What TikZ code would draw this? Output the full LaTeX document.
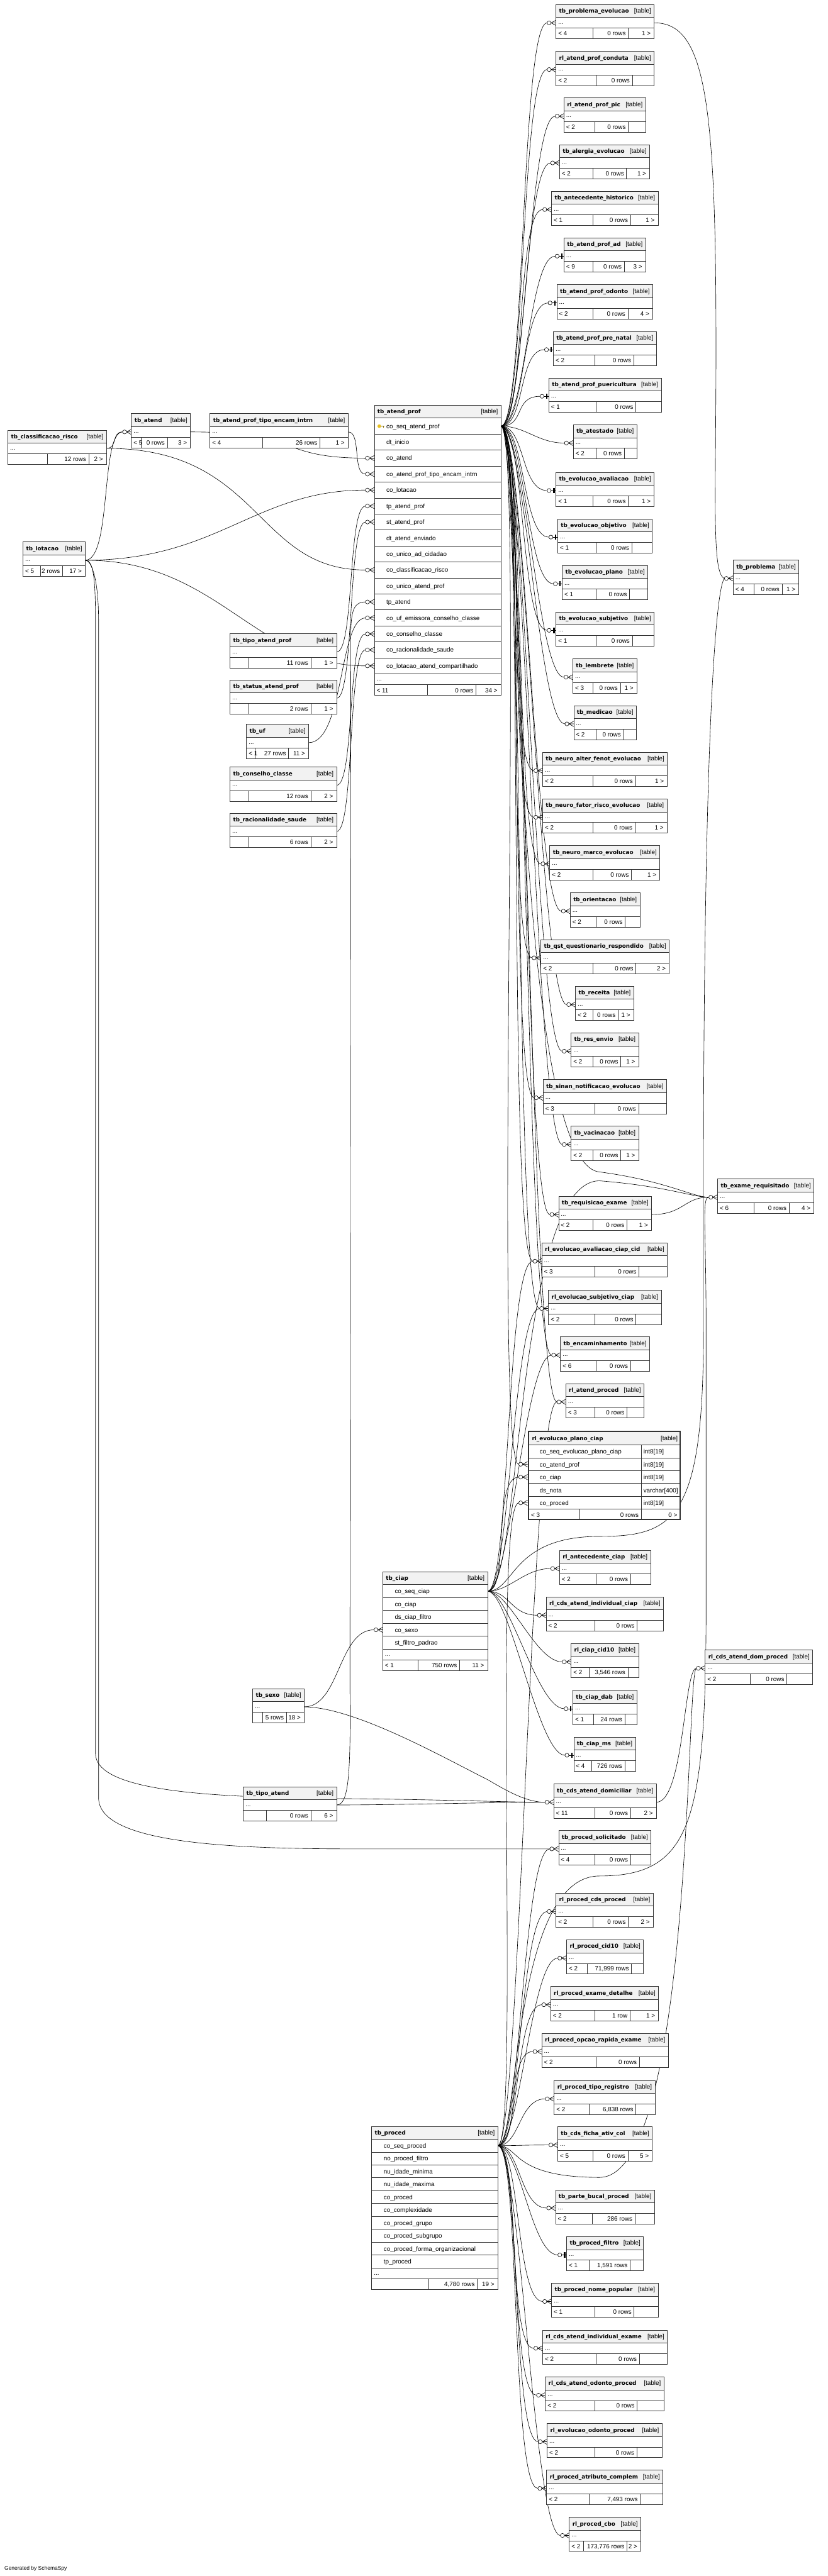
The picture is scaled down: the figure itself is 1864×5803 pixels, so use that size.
\documentclass[tikz,border=0pt]{standalone}
\usepackage{fontspec}
\setmainfont{Liberation Sans}
\newfontfamily\hdfont{DejaVu Sans}
\usetikzlibrary{calc}
\pgfdeclarelayer{back}
\pgfdeclarelayer{bg}
\pgfsetlayers{back,bg,main}
\definecolor{bd}{HTML}{333333}
\definecolor{hdbg}{HTML}{F2F2F2}
\definecolor{keyc}{HTML}{E8C020}
\tikzset{
 tline/.style={draw=bd, line width=1.3pt},
 tx/.style={inner sep=0pt, outer sep=0pt, font=\fontsize{14}{16}\selectfont, text=black},
 hd/.style={inner sep=0pt, outer sep=0pt, font=\hdfont\bfseries\fontsize{12.5}{15}\selectfont},
 cn/.style={draw=black, line width=0.9pt},
 anc/.style={inner sep=0pt, outer sep=0pt, minimum width=0pt, minimum height=0pt},
}
% small table: name, xl, xr, yt, split1, split2, left, mid, right
\newcommand{\stab}[9]{%
  \node[anc, anchor=north west, minimum width={#3-#2}, minimum height=77] (#1) at (#2,#4) {};
  \fill[white] (#2,#4) rectangle (#3,#4+77);
  \fill[hdbg] (#2,#4) rectangle (#3,#4+29);
  \draw[tline] (#2,#4+29) -- (#3,#4+29) (#2,#4+53) -- (#3,#4+53)
     (#5,#4+53) -- (#5,#4+77) (#6,#4+53) -- (#6,#4+77);
  \draw[tline] (#2,#4) rectangle (#3,#4+77);
  \node[hd, anchor=base west] (#1-t) at (#2+7,#4+19) {#1};
  \node[tx, anchor=base east] (#1-k) at (#3-7,#4+19) {[table]};
  \node[tx, anchor=base west] (#1-d) at (#2+5,#4+44) {...};
  \node[tx, anchor=base west] (#1-fl) at (#2+5,#4+70) {#7};
  \node[tx, anchor=base east] (#1-fm) at (#6-6,#4+70) {#8};
  \node[tx, anchor=base east] (#1-fr) at (#3-8,#4+70) {#9};
  \coordinate (#1-in) at (#2,#4+41);
  \coordinate (#1-e) at (#2-20,#4+41);
  \coordinate (#1-out) at (#3,#4+41);
}
% big table: name, xl, xr, yt, ncols, rowh, list
\newcommand{\btab}[7]{%
  \pgfmathsetmacro\bh{29+#6*#5+48}
  \node[anc, anchor=north west, minimum width={#3-#2}, minimum height=\bh] (#1) at (#2,#4) {};
  \fill[white] (#2,#4) rectangle (#3,#4+\bh);
  \fill[hdbg] (#2,#4) rectangle (#3,#4+29);
  \foreach \colname [count=\i from 0] in {#7} {
    \draw[tline] (#2,#4+29+#6*\i) -- (#3,#4+29+#6*\i);
    \node[tx, anchor=base west] (#1-c\i) at (#2+27,#4+29+#6*\i+#6/2+5) {\colname};
    \coordinate (#1-r\i) at (#2,#4+29+#6*\i+#6/2);
    \coordinate (#1-r\i-e) at (#2-20,#4+29+#6*\i+#6/2);
  }
  \draw[tline] (#2,#4+29+#6*#5) -- (#3,#4+29+#6*#5);
  \draw[tline] (#2,#4+\bh-24) -- (#3,#4+\bh-24);
  \draw[tline] (#2,#4) rectangle (#3,#4+\bh);
  \node[hd, anchor=base west] (#1-t) at (#2+7,#4+19) {#1};
  \node[tx, anchor=base east] (#1-k) at (#3-7,#4+19) {[table]};
  \node[tx, anchor=base west] (#1-d) at (#2+5,#4+29+#6*#5+16) {...};
  \coordinate (#1-pk) at (#3,#4+29+#6/2);
}
% footer of big table: name, xl, xr, ytop-of-footer, s1, s2, l, m, r
\newcommand{\bfoot}[9]{%
  \draw[tline] (#5,#4) -- (#5,#4+24) (#6,#4) -- (#6,#4+24);
  \node[tx, anchor=base west] (#1-fl) at (#2+5,#4+18) {#7};
  \node[tx, anchor=base east] (#1-fm) at (#6-6,#4+18) {#8};
  \node[tx, anchor=base east] (#1-fr) at (#3-8,#4+18) {#9};
}
\newcommand{\many}[1]{%
  \draw[cn] ($(#1)+(9,0)$) -- ($(#1)+(20,-6)$) ($(#1)+(9,0)$) -- ($(#1)+(20,0)$) ($(#1)+(9,0)$) -- ($(#1)+(20,6)$);
  \draw[cn, fill=white] ($(#1)+(4.5,0)$) circle[radius=4.5pt];
}
\newcommand{\one}[1]{%
  \draw[cn] ($(#1)+(9,0)$) -- ($(#1)+(20,0)$);
  \fill[black] ($(#1)+(14,-6)$) rectangle ($(#1)+(17,6)$);
  \draw[cn, fill=white] ($(#1)+(4.5,0)$) circle[radius=4.5pt];
}
\begin{document}
\catcode`\_=12
\begin{tikzpicture}[x=1pt,y=-1pt]
\useasboundingbox (0,0) rectangle (1864,5803);
\begin{pgfonlayer}{back}
\fill[white] (0,0) rectangle (1864,5803);
\end{pgfonlayer}

% ---------------- right column ----------------
\stab{tb_problema_evolucao}{1252}{1473}{10.5}{1335}{1415}{< 4}{0 rows}{1 >}
\stab{rl_atend_prof_conduta}{1252}{1473}{115.7}{1342}{1424}{< 2}{0 rows}{}
\stab{rl_atend_prof_pic}{1270}{1454}{220.8}{1340}{1415}{< 2}{0 rows}{}
\stab{tb_alergia_evolucao}{1260}{1463}{326}{1335}{1411}{< 2}{0 rows}{1 >}
\stab{tb_antecedente_historico}{1242}{1482}{431}{1335}{1420}{< 1}{0 rows}{1 >}
\stab{tb_atend_prof_ad}{1270}{1454}{536}{1335}{1406}{< 9}{0 rows}{3 >}
\stab{tb_atend_prof_odonto}{1254}{1470}{641.5}{1335}{1414}{< 2}{0 rows}{4 >}
\stab{tb_atend_prof_pre_natal}{1246}{1478}{746.6}{1340}{1427}{< 2}{0 rows}{}
\stab{tb_atend_prof_puericultura}{1236}{1489}{851.8}{1342}{1432}{< 1}{0 rows}{}
\stab{tb_atestado}{1291}{1434}{957}{1342}{1406}{< 2}{0 rows}{}
\stab{tb_evolucao_avaliacao}{1252}{1473}{1064}{1335}{1415}{< 1}{0 rows}{1 >}
\stab{tb_evolucao_objetivo}{1256}{1469}{1169}{1342}{1423}{< 1}{0 rows}{}
\stab{tb_evolucao_plano}{1266}{1459}{1274}{1342}{1418}{< 1}{0 rows}{}
\stab{tb_evolucao_subjetivo}{1252}{1473}{1379}{1342}{1424}{< 1}{0 rows}{}
\stab{tb_lembrete}{1290}{1434}{1484.6}{1335}{1397}{< 3}{0 rows}{1 >}
\stab{tb_medicao}{1292}{1433}{1589.7}{1342}{1404}{< 2}{0 rows}{}
\stab{tb_neuro_alter_fenot_evolucao}{1222}{1503}{1695}{1335}{1431}{< 2}{0 rows}{1 >}
\stab{tb_neuro_fator_risco_evolucao}{1222}{1502}{1800}{1335}{1430}{< 2}{0 rows}{1 >}
\stab{tb_neuro_marco_evolucao}{1238}{1486}{1905}{1335}{1422}{< 2}{0 rows}{1 >}
\stab{tb_orientacao}{1284}{1441}{2011.5}{1342}{1408}{< 2}{0 rows}{}
\stab{tb_qst_questionario_respondido}{1218}{1507}{2116.7}{1335}{1432}{< 2}{0 rows}{2 >}
\stab{tb_receita}{1296}{1427}{2222}{1335}{1392}{< 2}{0 rows}{1 >}
\stab{tb_res_envio}{1286}{1438}{2327}{1335}{1398}{< 2}{0 rows}{1 >}
\stab{tb_sinan_notificacao_evolucao}{1223}{1501}{2432}{1340}{1438}{< 3}{0 rows}{}
\stab{tb_vacinacao}{1286}{1438}{2537}{1335}{1398}{< 2}{0 rows}{1 >}
\stab{tb_requisicao_exame}{1258}{1467}{2695}{1335}{1412}{< 2}{0 rows}{1 >}
\stab{rl_evolucao_avaliacao_ciap_cid}{1220}{1503}{2800}{1340}{1439}{< 3}{0 rows}{}
\stab{rl_evolucao_subjetivo_ciap}{1235}{1489}{2906.6}{1340}{1432}{< 2}{0 rows}{}
\stab{tb_encaminhamento}{1262}{1463}{3011.8}{1342}{1420}{< 6}{0 rows}{}
\stab{rl_atend_proced}{1274}{1450}{3117}{1340}{1412}{< 3}{0 rows}{}
\stab{rl_antecedente_ciap}{1260}{1465}{3492.5}{1342}{1420}{< 2}{0 rows}{}
\stab{rl_cds_atend_individual_ciap}{1230}{1494}{3597.6}{1340}{1435}{< 2}{0 rows}{}
\stab{rl_ciap_cid10}{1286}{1438}{3702.7}{1327}{1414}{< 2}{3,546 rows}{}
\stab{tb_ciap_dab}{1290}{1434}{3808}{1336}{1407}{< 1}{24 rows}{}
\stab{tb_ciap_ms}{1292}{1431}{3913}{1332}{1407}{< 4}{726 rows}{}
\stab{tb_cds_atend_domiciliar}{1247}{1478}{4018.8}{1339}{1420}{< 11}{0 rows}{2 >}
\stab{tb_proced_solicitado}{1258}{1466}{4124}{1340}{1420}{< 4}{0 rows}{}
\stab{rl_proced_cds_proced}{1252}{1471}{4265}{1335}{1415}{< 2}{0 rows}{2 >}
\stab{rl_proced_cid10}{1276}{1449}{4370}{1323}{1422}{< 2}{71,999 rows}{}
\stab{rl_proced_exame_detalhe}{1240}{1483}{4475}{1339}{1419}{< 2}{1 row}{1 >}
\stab{rl_proced_opcao_rapida_exame}{1220}{1505}{4580.5}{1342}{1440}{< 2}{0 rows}{}
\stab{rl_proced_tipo_registro}{1248}{1475}{4687}{1327}{1432}{< 2}{6,838 rows}{}
\stab{tb_cds_ficha_ativ_col}{1256}{1469}{4791}{1335}{1414}{< 5}{0 rows}{5 >}
\stab{tb_parte_bucal_proced}{1251}{1474}{4933}{1334}{1430}{< 2}{286 rows}{}
\stab{tb_proced_filtro}{1276}{1449}{5038.6}{1327}{1419}{< 1}{1,591 rows}{}
\stab{tb_proced_nome_popular}{1242}{1482}{5143.5}{1340}{1428}{< 1}{0 rows}{}
\stab{rl_cds_atend_individual_exame}{1222}{1503}{5249}{1342}{1440}{< 2}{0 rows}{}
\stab{rl_cds_atend_odonto_proced}{1228}{1495}{5354.6}{1340}{1435}{< 2}{0 rows}{}
\stab{rl_evolucao_odonto_proced}{1232}{1491}{5459.5}{1340}{1434}{< 2}{0 rows}{}
\stab{rl_proced_atributo_complem}{1231}{1493}{5564.5}{1327}{1442}{< 2}{7,493 rows}{}
\stab{rl_proced_cbo}{1282}{1443}{5670.6}{1314}{1412}{< 2}{173,776 rows}{2 >}

% far right
\stab{tb_problema}{1651}{1799}{1262}{1698}{1761}{< 4}{0 rows}{1 >}
\stab{tb_exame_requisitado}{1616}{1833}{2656}{1698}{1777}{< 6}{0 rows}{4 >}
\stab{rl_cds_atend_dom_proced}{1588}{1830}{3717}{1690}{1772}{< 2}{0 rows}{}

% left
\stab{tb_classificacao_risco}{18}{240}{969}{107}{200}{}{12 rows}{2 >}
\stab{tb_atend}{296}{429}{932}{318}{377}{< 5}{0 rows}{3 >}
\stab{tb_atend_prof_tipo_encam_intrn}{473}{784}{932}{592}{721}{< 4}{26 rows}{1 >}
\stab{tb_lotacao}{52}{192}{1221}{92}{141}{< 5}{2 rows}{17 >}
\stab{tb_tipo_atend_prof}{518}{758}{1428}{560}{700}{}{11 rows}{1 >}
\stab{tb_status_atend_prof}{518}{758}{1532}{560}{700}{}{2 rows}{1 >}
\stab{tb_uf}{555}{695}{1632}{575}{650}{< 1}{27 rows}{11 >}
\stab{tb_conselho_classe}{518}{758}{1728}{560}{700}{}{12 rows}{2 >}
\stab{tb_racionalidade_saude}{518}{758}{1832}{560}{700}{}{6 rows}{2 >}
\stab{tb_sexo}{569}{685}{3804}{591}{645}{}{5 rows}{18 >}
\stab{tb_tipo_atend}{548}{758}{4025}{600}{700}{}{0 rows}{6 >}

% big tables
\btab{tb_atend_prof}{843}{1128}{913}{16}{36}{co_seq_atend_prof,dt_inicio,co_atend,co_atend_prof_tipo_encam_intrn,co_lotacao,tp_atend_prof,st_atend_prof,dt_atend_enviado,co_unico_ad_cidadao,co_classificacao_risco,co_unico_atend_prof,tp_atend,co_uf_emissora_conselho_classe,co_conselho_classe,co_racionalidade_saude,co_lotacao_atend_compartilhado}
\bfoot{tb_atend_prof}{843}{1128}{1542}{962}{1072}{< 11}{0 rows}{34 >}
\fill[keyc] (854,960) circle[radius=4pt];
\draw[draw=keyc!60!black, line width=1.2pt] (857,960) -- (866,960) (863,960) -- (863,964);
\btab{tb_ciap}{862}{1098}{3541}{5}{29}{co_seq_ciap,co_ciap,ds_ciap_filtro,co_sexo,st_filtro_padrao}
\bfoot{tb_ciap}{862}{1098}{3739}{941}{1035}{< 1}{750 rows}{11 >}
\btab{tb_proced}{837}{1121}{4790}{10}{29}{co_seq_proced,no_proced_filtro,nu_idade_minima,nu_idade_maxima,co_proced,co_complexidade,co_proced_grupo,co_proced_subgrupo,co_proced_forma_organizacional,tp_proced}
\bfoot{tb_proced}{837}{1121}{5133}{965}{1075}{}{4,780 rows}{19 >}

% focus table rl_evolucao_plano_ciap
\node[anc, anchor=north west, minimum width=345, minimum height=201] (rl_evolucao_plano_ciap) at (1188,3223) {};
\fill[white] (1188,3223) rectangle (1533,3424);
\fill[hdbg] (1188,3223) rectangle (1533,3255);
\foreach \colname/\ctype [count=\i from 0] in {co_seq_evolucao_plano_ciap/int8[19],co_atend_prof/int8[19],co_ciap/int8[19],ds_nota/varchar[400],co_proced/int8[19]} {
  \draw[tline] (1188,3255+29*\i) -- (1533,3255+29*\i);
  \node[tx, anchor=base west] (pc-c\i) at (1215,3255+29*\i+20) {\colname};
  \node[tx, anchor=base west] (pc-y\i) at (1449,3255+29*\i+20) {\ctype};
  \coordinate (pc-r\i-e) at (1168,3255+29*\i+14.5);
}
\draw[tline] (1188,3400) -- (1533,3400);
\draw[tline] (1444,3255) -- (1444,3424) (1306,3400) -- (1306,3424);
\draw[draw=bd, line width=3pt] (1189.5,3224.5) rectangle (1531.5,3422.5);
\node[hd, anchor=base west] (pc-t) at (1198,3245) {rl_evolucao_plano_ciap};
\node[tx, anchor=base east] (pc-k) at (1526,3245) {[table]};
\node[tx, anchor=base west] (pc-fl) at (1196,3418) {< 3};
\node[tx, anchor=base east] (pc-fm) at (1438,3418) {0 rows};
\node[tx, anchor=base east] (pc-fr) at (1525,3418) {0 >};

\node[tx, anchor=base west, font=\fontsize{12}{14}\selectfont] (gen) at (10,5790) {Generated by SchemaSpy};

% ---------------- connectors ----------------
\begin{pgfonlayer}{bg}
\foreach \tn in {tb_problema_evolucao,rl_atend_prof_conduta,rl_atend_prof_pic,tb_alergia_evolucao,
 tb_antecedente_historico,tb_atend_prof_ad,tb_atend_prof_odonto,tb_atend_prof_pre_natal,
 tb_atend_prof_puericultura,tb_atestado,tb_evolucao_avaliacao,tb_evolucao_objetivo,tb_evolucao_plano,
 tb_evolucao_subjetivo,tb_lembrete,tb_medicao,tb_neuro_alter_fenot_evolucao,tb_neuro_fator_risco_evolucao,
 tb_neuro_marco_evolucao,tb_orientacao,tb_qst_questionario_respondido,tb_receita,tb_res_envio,
 tb_sinan_notificacao_evolucao,tb_vacinacao,tb_requisicao_exame,rl_evolucao_avaliacao_ciap_cid,
 rl_evolucao_subjetivo_ciap,tb_encaminhamento,rl_atend_proced}
 {\draw[cn] (tb_atend_prof-pk) .. controls +(55,0) and +(-60,0) .. (\tn-e);}
\draw[cn] (tb_atend_prof-pk) .. controls +(55,0) and +(-60,0) .. (pc-r1-e);
\foreach \tn in {rl_evolucao_avaliacao_ciap_cid,rl_evolucao_subjetivo_ciap,tb_encaminhamento,
 rl_antecedente_ciap,rl_cds_atend_individual_ciap,rl_ciap_cid10,tb_ciap_dab,tb_ciap_ms}
 {\draw[cn] (tb_ciap-pk) .. controls +(50,0) and +(-60,0) .. (\tn-e);}
\draw[cn] (tb_ciap-pk) .. controls +(50,0) and +(-60,0) .. (pc-r2-e);
\foreach \tn in {rl_atend_proced,tb_proced_solicitado,rl_proced_cds_proced,rl_proced_cid10,
 rl_proced_exame_detalhe,rl_proced_opcao_rapida_exame,rl_proced_tipo_registro,tb_cds_ficha_ativ_col,
 tb_parte_bucal_proced,tb_proced_filtro,tb_proced_nome_popular,rl_cds_atend_individual_exame,
 rl_cds_atend_odonto_proced,rl_evolucao_odonto_proced,rl_proced_atributo_complem,rl_proced_cbo}
 {\draw[cn] (tb_proced-pk) .. controls +(50,0) and +(-60,0) .. (\tn-e);}
\draw[cn] (tb_proced-pk) .. controls +(50,0) and +(-60,0) .. (pc-r4-e);
% far right routes
\draw[cn] (tb_problema_evolucao-out) .. controls (1580,51) and (1610,200) .. (1612,700)
  .. controls (1614,1100) and (1600,1290) .. (tb_problema-e);
\draw[cn] (tb_ciap-pk) .. controls (1160,3584) and (1150,3461) .. (1350,3461)
  .. controls (1520,3461) and (1584,3420) .. (1584,3000) -- (1584,2700)
  .. controls (1584,1700) and (1610,1330) .. (tb_problema-e);
\draw[cn] (tb_requisicao_exame-out) .. controls (1540,2736) and (1540,2697) .. (tb_exame_requisitado-e);
\draw[cn] (tb_atend_prof-pk) .. controls (1170,956) and (1150,2622) .. (1350,2640)
  .. controls (1500,2660) and (1560,2697) .. (tb_exame_requisitado-e);
\draw[cn] (tb_ciap-pk) .. controls (1175,3584) and (1160,2660) .. (1350,2660)
  .. controls (1500,2672) and (1560,2697) .. (tb_exame_requisitado-e);
\draw[cn] (tb_proced-pk) .. controls (1170,4833) and (1150,4226) .. (1350,4226)
  .. controls (1560,4226) and (1590,4100) .. (1590,3600) -- (1590,3000)
  .. controls (1590,2760) and (1580,2697) .. (tb_exame_requisitado-e);
\draw[cn] (tb_cds_atend_domiciliar-out) .. controls (1540,4060) and (1540,3758) .. (rl_cds_atend_dom_proced-e);
\draw[cn] (tb_proced-pk) .. controls (1170,4833) and (1150,4905) .. (1350,4905)
  .. controls (1560,4905) and (1545,3758) .. (rl_cds_atend_dom_proced-e);
% left side
\draw[cn] (tb_classificacao_risco-out) .. controls +(25,0) and +(-25,0) .. (tb_atend-e);
\draw[cn] (tb_lotacao-out) .. controls +(60,0) and +(-50,0) .. (tb_atend-e);
\draw[cn] (tb_atend-out) .. controls +(250,0) and +(-200,0) .. (tb_atend_prof-r2-e);
\draw[cn] (tb_atend_prof_tipo_encam_intrn-out) .. controls +(30,0) and +(-30,0) .. (tb_atend_prof-r3-e);
\draw[cn] (tb_lotacao-out) .. controls +(300,0) and +(-250,0) .. (tb_atend_prof-r4-e);
\draw[cn] (tb_lotacao-out) .. controls +(300,0) and +(-250,0) .. (tb_atend_prof-r15-e);
\draw[cn] (tb_classificacao_risco-out) .. controls +(350,0) and +(-250,0) .. (tb_atend_prof-r9-e);
\draw[cn] (tb_tipo_atend_prof-out) .. controls +(40,0) and +(-40,0) .. (tb_atend_prof-r5-e);
\draw[cn] (tb_status_atend_prof-out) .. controls +(40,0) and +(-40,0) .. (tb_atend_prof-r6-e);
\draw[cn] (tb_uf-out) .. controls +(80,0) and +(-60,0) .. (tb_atend_prof-r12-e);
\draw[cn] (tb_conselho_classe-out) .. controls +(40,0) and +(-40,0) .. (tb_atend_prof-r13-e);
\draw[cn] (tb_racionalidade_saude-out) .. controls +(40,0) and +(-40,0) .. (tb_atend_prof-r14-e);
\draw[cn] (tb_tipo_atend-out) .. controls (785,4066) and (790,4000) .. (788,3800) -- (790,1420)
  .. controls (791,1370) and (800,1356) .. (tb_atend_prof-r11-e);
\draw[cn] (tb_sexo-out) .. controls +(80,0) and +(-80,0) .. (tb_ciap-r3-e);
\draw[cn] (tb_sexo-out) .. controls (800,3846) and (1000,3960) .. (1100,4010)
  .. controls (1150,4040) and (1190,4060) .. (tb_cds_atend_domiciliar-e);
\draw[cn] (tb_tipo_atend-out) .. controls (900,4066) and (1100,4060) .. (tb_cds_atend_domiciliar-e);
\draw[cn] (tb_lotacao-out) .. controls (210,1262) and (215,1300) .. (215,1400) -- (215,3950)
  .. controls (215,4040) and (500,4050) .. (800,4052) .. controls (1000,4054) and (1150,4060) .. (tb_cds_atend_domiciliar-e);
\draw[cn] (tb_lotacao-out) .. controls (205,1262) and (222,1300) .. (222,1400) -- (222,4050)
  .. controls (222,4150) and (500,4165) .. (800,4165) -- (tb_proced_solicitado-e);
% markers
\foreach \tn in {tb_problema_evolucao,rl_atend_prof_conduta,rl_atend_prof_pic,tb_alergia_evolucao,
 tb_antecedente_historico,tb_atestado,tb_lembrete,tb_medicao,tb_neuro_alter_fenot_evolucao,
 tb_neuro_fator_risco_evolucao,tb_neuro_marco_evolucao,tb_orientacao,tb_qst_questionario_respondido,
 tb_receita,tb_res_envio,tb_sinan_notificacao_evolucao,tb_vacinacao,tb_requisicao_exame,
 rl_evolucao_avaliacao_ciap_cid,rl_evolucao_subjetivo_ciap,tb_encaminhamento,rl_atend_proced,
 rl_antecedente_ciap,rl_cds_atend_individual_ciap,rl_ciap_cid10,tb_cds_atend_domiciliar,
 tb_proced_solicitado,rl_proced_cds_proced,rl_proced_cid10,rl_proced_exame_detalhe,
 rl_proced_opcao_rapida_exame,rl_proced_tipo_registro,tb_cds_ficha_ativ_col,tb_parte_bucal_proced,
 tb_proced_nome_popular,rl_cds_atend_individual_exame,rl_cds_atend_odonto_proced,
 rl_evolucao_odonto_proced,rl_proced_atributo_complem,rl_proced_cbo,tb_problema,tb_exame_requisitado,
 rl_cds_atend_dom_proced,tb_atend}
 {\many{\tn-e}}
\foreach \tn in {tb_atend_prof_ad,tb_atend_prof_odonto,tb_atend_prof_pre_natal,tb_atend_prof_puericultura,
 tb_evolucao_avaliacao,tb_evolucao_objetivo,tb_evolucao_plano,tb_evolucao_subjetivo,tb_ciap_dab,
 tb_ciap_ms,tb_proced_filtro}
 {\one{\tn-e}}
\foreach \rr in {2,3,4,5,6,9,11,12,13,14,15} {\many{tb_atend_prof-r\rr-e}}
\many{tb_ciap-r3-e}
\many{pc-r1-e}\many{pc-r2-e}\many{pc-r4-e}
\end{pgfonlayer}
\end{tikzpicture}
\end{document}
